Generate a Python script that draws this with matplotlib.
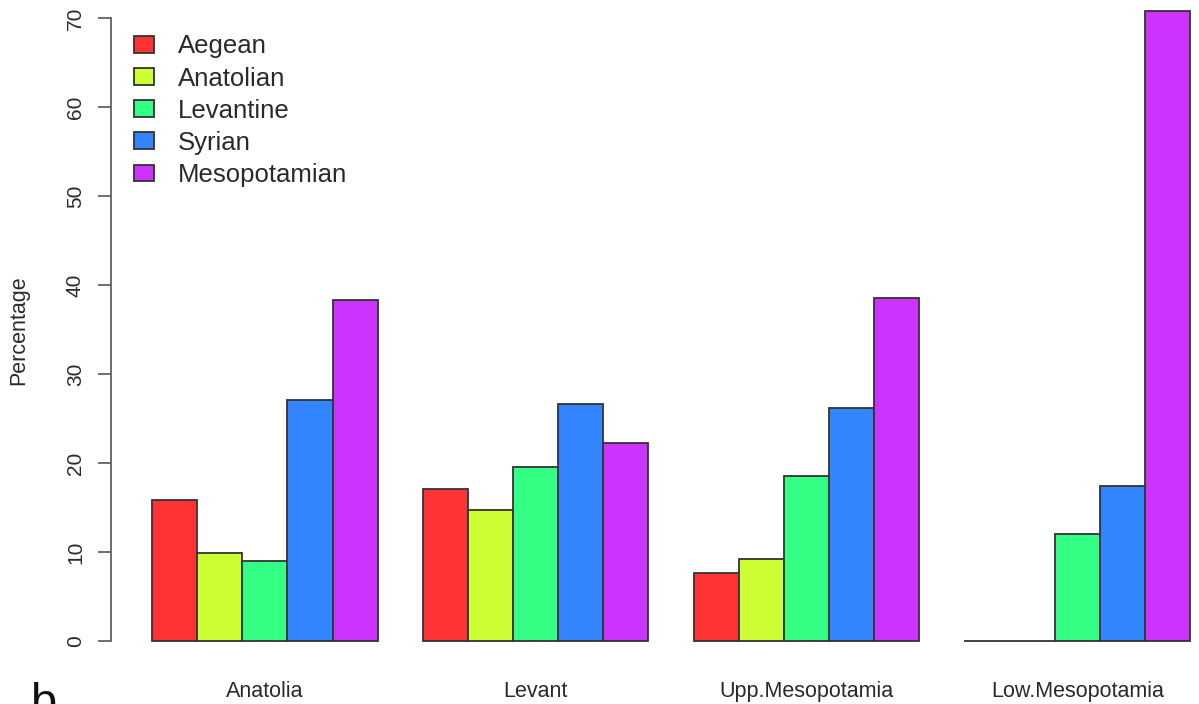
import matplotlib
matplotlib.use("Agg")
import matplotlib.pyplot as plt
from matplotlib.patches import Patch
import numpy as np

plt.rcParams['font.family'] = ['Liberation Sans', 'DejaVu Sans']

regions = ["Anatolia", "Levant", "Upp.Mesopotamia", "Low.Mesopotamia"]
series = ["Aegean", "Anatolian", "Levantine", "Syrian", "Mesopotamian"]
aegean = [15.8, 17.1, 7.6, 0.0]
anatolian = [9.9, 14.7, 9.2, 0.0]
levantine = [9.0, 19.5, 18.5, 12.0]
syrian = [27.1, 26.6, 26.2, 17.4]
mesopotamian = [38.3, 22.2, 38.5, 70.8]
values = [aegean, anatolian, levantine, syrian, mesopotamian]
colors = ["#FF3333", "#CCFF33", "#33FF85", "#3385FF", "#CC33FF"]
yticks = [0, 10, 20, 30, 40, 50, 60, 70]

W, H = 1199, 704
fig = plt.figure(figsize=(W / 100, H / 100), dpi=100)
# axes placed in pixel terms (reference is a crop of a larger R plot)
ax_left, ax_right, ax_top, ax_bottom = 110.5, 1231.6, -14.3, 666.2
ax = fig.add_axes([ax_left / W, 1 - ax_bottom / H,
                   (ax_right - ax_left) / W, (ax_bottom - ax_top) / H])
ax.set_xlim(0.08, 24.92)
ax.set_ylim(-2.83, 73.63)

edge = "#333333"
nser = len(series)
for s, (vals, col) in enumerate(zip(values, colors)):
    xs = [1 + g * (nser + 1) + s for g in range(len(regions))]
    ax.bar(xs, vals, width=1, align='edge', color=col, edgecolor=edge,
           linewidth=1.3, label=series[s], zorder=3)

centers = [1 + g * (nser + 1) + nser / 2 for g in range(len(regions))]
ax.set_xticks(centers)
ax.set_xticklabels(regions, fontsize=15.5, color="#2a2a2a")
ax.tick_params(axis='x', length=0, pad=11)

ax.set_yticks(yticks)
ax.set_yticklabels([str(t) for t in yticks], rotation=90, va='center',
                   fontsize=15, color="#2a2a2a")
ax.tick_params(axis='y', length=9.4, width=1.2, color="#555555", pad=9)

for sp in ['top', 'right', 'bottom']:
    ax.spines[sp].set_visible(False)
ax.spines['left'].set_bounds(0, 70)
ax.spines['left'].set_color("#555555")
ax.spines['left'].set_linewidth(1.2)

fig.text(19 / W, 1 - 330 / H, "Percentage", rotation=90, ha='center',
         va='center', fontsize=15.5, color="#2a2a2a")

handles = [Patch(facecolor=c, edgecolor=edge, linewidth=1.3) for c in colors]
leg = ax.legend(handles, series, loc='upper left', frameon=False, fontsize=18.5,
                handlelength=0.78, handleheight=0.62, handletextpad=0.92,
                labelspacing=0.315, borderpad=0, borderaxespad=0,
                bbox_to_anchor=(134 / W, 1 - 34.5 / H), bbox_transform=fig.transFigure)
for t in leg.get_texts():
    t.set_color("#2a2a2a")

fig.text(30 / W, 1 - 682 / H, "b", ha='left', va='top', fontsize=34,
         color="#111111")

fig.savefig("out.png", dpi=100)
